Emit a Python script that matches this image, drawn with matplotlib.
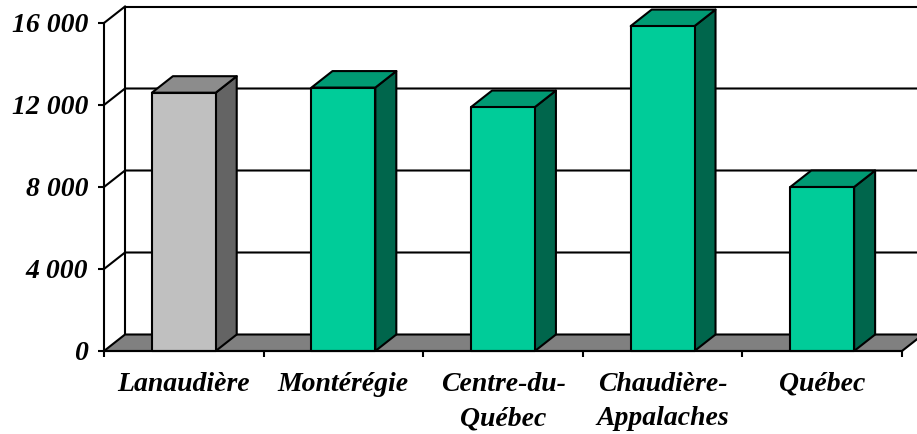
import matplotlib
matplotlib.use("Agg")
import matplotlib.pyplot as plt
from matplotlib.patches import Polygon

# data
regions = ["Lanaudière", "Montérégie", "Centre-du-\nQuébec", "Chaudière-\nAppalaches", "Québec"]
values = [12600, 12850, 11900, 15850, 8000]
y_ticks = [0, 4000, 8000, 12000, 16000]
y_labels = ["0", "4 000", "8 000", "12 000", "16 000"]

# colours (front, top, side)
gray = ("#c0c0c0", "#8c8c8c", "#646464")
green = ("#00cc99", "#009a73", "#00664c")
floor_color = "#808080"

fig = plt.figure(figsize=(9.17, 4.34), dpi=100)
ax = fig.add_axes([104 / 917, 83 / 434, 798 / 917, 328 / 434])
ax.set_xlim(0, len(regions))
ax.set_ylim(0, 16000)

# depth offset of the 3-D box, in data units
dx = 21 / 798 * len(regions)
dy = 16.5 / 328 * 16000
lw = 1.5
n = len(regions)

# back wall + left wall outline
ax.plot([dx, dx, n + dx + 1], [dy, 16000 + dy, 16000 + dy], color="black", lw=lw,
        clip_on=False, zorder=2)
ax.plot([0, dx], [16000, 16000 + dy], color="black", lw=lw, clip_on=False, zorder=2)
for t in y_ticks[1:-1]:
    ax.plot([0, dx, n + dx + 1], [t, t + dy, t + dy], color="black", lw=lw,
            clip_on=False, zorder=2)

# floor
floor = Polygon([(0, 0), (n, 0), (n + dx, dy), (n + dx + 1, dy), (dx, dy)],
                closed=True, facecolor=floor_color, edgecolor="black", lw=lw,
                clip_on=False, zorder=3)
ax.add_patch(floor)

# bars
w0, w1 = 0.3, 0.7
for i, v in enumerate(values):
    front, top, side = gray if i == 0 else green
    xl, xr = i + w0, i + w1
    pts_side = [(xr, 0), (xr + dx, dy), (xr + dx, v + dy), (xr, v)]
    pts_top = [(xl, v), (xr, v), (xr + dx, v + dy), (xl + dx, v + dy)]
    pts_front = [(xl, 0), (xr, 0), (xr, v), (xl, v)]
    for pts, c in ((pts_side, side), (pts_top, top), (pts_front, front)):
        ax.add_patch(Polygon(pts, closed=True, facecolor=c, edgecolor="black", lw=lw,
                             joinstyle="round", clip_on=False, zorder=4))

for s in ("top", "right"):
    ax.spines[s].set_visible(False)
for s in ("left", "bottom"):
    ax.spines[s].set_linewidth(lw)
    ax.spines[s].set_zorder(5)

font = dict(family="Liberation Serif", weight="bold", style="italic", size=20)
ax.set_yticks(y_ticks)
ax.set_yticklabels(y_labels, fontdict=font)
ax.set_xticks(range(n + 1))
ax.set_xticklabels([])
ax.set_xticks([i + 0.5 for i in range(n)], minor=True)
ax.set_xticklabels(regions, minor=True, fontdict=font, linespacing=1.5)
ax.tick_params(axis="y", length=4.3, width=lw, pad=7)
ax.tick_params(axis="x", which="major", length=4.3, width=lw)
ax.tick_params(axis="x", which="minor", length=0, pad=15)

fig.savefig("out.png", dpi=100)
